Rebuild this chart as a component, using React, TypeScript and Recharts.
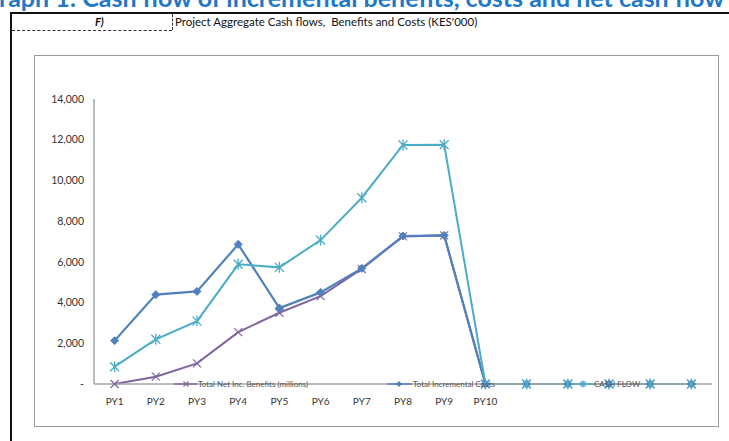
import { Line, LineChart, XAxis, YAxis } from 'recharts';

const PERIODS = ['PY1', 'PY2', 'PY3', 'PY4', 'PY5', 'PY6', 'PY7', 'PY8', 'PY9', 'PY10', 'PY11', 'PY12', 'PY13', 'PY14', 'PY15'];
const TICK_LABELS = ['PY1', 'PY2', 'PY3', 'PY4', 'PY5', 'PY6', 'PY7', 'PY8', 'PY9', 'PY10', '', '', '', '', ''];
const NET_BENEFITS = [0, 360, 1015, 2550, 3500, 4320, 5650, 7250, 7300, 0, 0, 0, 0, 0, 0];
const INCREMENTAL_COSTS = [2130, 4390, 4550, 6860, 3730, 4500, 5680, 7270, 7300, 0, 0, 0, 0, 0, 0];
const CASH_FLOW = [850, 2195, 3090, 5880, 5730, 7070, 9150, 11740, 11750, 0, 0, 0, 0, 0, 0];
const Y_TICKS = [0, 2000, 4000, 6000, 8000, 10000, 12000, 14000];

const PURPLE = '#8064A2';
const BLUE = '#4F81BD';
const TEAL = '#4BACC6';
const FONT = 'Lato, "Open Sans", sans-serif';

const data = PERIODS.map((p, i) => ({
  period: p,
  net: NET_BENEFITS[i],
  costs: INCREMENTAL_COSTS[i],
  cash: CASH_FLOW[i],
}));

function Diamond({ cx, cy, r = 4 }: { cx: number; cy: number; r?: number }) {
  return <path d={`M${cx},${cy - r}L${cx + r},${cy}L${cx},${cy + r}L${cx - r},${cy}Z`} fill={BLUE} stroke={BLUE} strokeWidth={1} />;
}

function Cross({ cx, cy, r = 4, color = PURPLE }: { cx: number; cy: number; r?: number; color?: string }) {
  return (
    <path d={`M${cx - r},${cy - r}L${cx + r},${cy + r}M${cx - r},${cy + r}L${cx + r},${cy - r}`} stroke={color} strokeWidth={1.2} fill="none" />
  );
}

function Star({ cx, cy, r = 4.5 }: { cx: number; cy: number; r?: number }) {
  return (
    <path
      d={`M${cx - r},${cy - r}L${cx + r},${cy + r}M${cx - r},${cy + r}L${cx + r},${cy - r}M${cx},${cy - r - 1}L${cx},${cy + r + 1}`}
      stroke={TEAL}
      strokeWidth={1.3}
      fill="none"
    />
  );
}

const fmt = (v: number) => (v === 0 ? '-' : v.toLocaleString('en-US'));

export default function App() {
  return (
    <div style={{ position: 'absolute', left: 0, top: 0, width: 729, height: 441, overflow: 'hidden', background: '#fff', fontFamily: FONT }}>
      {/* heading of the page above, only its lower edge shows */}
      <div
        style={{ position: 'absolute', left: -19, top: -15, whiteSpace: 'nowrap', fontSize: 25, lineHeight: '25px', fontWeight: 700, color: '#1F78C8' }}
      >
        Graph 1: Cash flow of incremental benefits, costs and net cash flow
      </div>
      {/* sheet borders */}
      <div style={{ position: 'absolute', left: 10, top: 12, width: 730, height: 440, borderTop: '2px solid #111', borderLeft: '2px solid #111' }} />
      <div style={{ position: 'absolute', left: 12, top: 30, width: 160, borderTop: '1px dashed #333' }} />
      <div style={{ position: 'absolute', left: 172, top: 14, height: 16, borderLeft: '1px dashed #333' }} />
      <div style={{ position: 'absolute', left: 95, top: 14, fontSize: 11, lineHeight: '15px', fontWeight: 700, fontStyle: 'italic', color: '#111' }}>F)</div>
      <div style={{ position: 'absolute', left: 175, top: 14, fontSize: 11.5, lineHeight: '15px', color: '#111', whiteSpace: 'nowrap' }}>
        Project Aggregate Cash flows,&nbsp; Benefits and Costs (KES'000)
      </div>

      {/* chart frame */}
      <div style={{ position: 'absolute', left: 34, top: 55, width: 685, height: 372, border: '1px solid #9a9a9a', boxSizing: 'border-box' }} />
      <div style={{ position: 'absolute', left: 34, top: 55 }}>
        <LineChart width={684} height={371} data={data} margin={{ top: 44, right: 6, left: 0, bottom: 12 }}>
          <XAxis
            dataKey="period"
            interval={0}
            height={30}
            padding={{ left: 20.6, right: 20.6 }}
            tickLine={false}
            tickSize={0}
            tickMargin={14}
            axisLine={{ stroke: '#a6a6a6', strokeWidth: 1.5 }}
            tickFormatter={(_v, i) => TICK_LABELS[i]}
            tick={{ fontSize: 10, fill: '#333', fontFamily: FONT }}
          />
          <YAxis
            width={60}
            domain={[0, 14000]}
            ticks={Y_TICKS}
            interval={0}
            tickLine={false}
            tickSize={0}
            tickMargin={10}
            axisLine={{ stroke: '#a6a6a6', strokeWidth: 1.5 }}
            tickFormatter={fmt}
            tick={{ fontSize: 10.5, fill: '#333', fontFamily: FONT }}
          />
          <Line
            dataKey="net"
            stroke={PURPLE}
            strokeWidth={2}
            isAnimationActive={false}
            dot={(p: any) => <Cross key={`n${p.index}`} cx={p.cx} cy={p.cy} />}
          />
          <Line
            dataKey="costs"
            stroke={BLUE}
            strokeWidth={2.2}
            isAnimationActive={false}
            dot={(p: any) => <Diamond key={`c${p.index}`} cx={p.cx} cy={p.cy} />}
          />
          <Line
            dataKey="cash"
            stroke={TEAL}
            strokeWidth={2}
            isAnimationActive={false}
            dot={(p: any) => <Star key={`f${p.index}`} cx={p.cx} cy={p.cy} />}
          />
        </LineChart>
      </div>

      {/* legend, laid over the axis as in the original */}
      <svg width={729} height={441} style={{ position: 'absolute', left: 0, top: 0, pointerEvents: 'none' }}>
        <g fontFamily={FONT} fontSize={8} fill="#555">
          <line x1={174} y1={384} x2={197} y2={384} stroke={PURPLE} strokeWidth={1.5} />
          <Cross cx={186} cy={384} r={2.5} />
          <text x={198} y={386.8}>Total Net Inc. Benefits (millions)</text>
          <line x1={387} y1={384} x2={412} y2={384} stroke={BLUE} strokeWidth={1.5} />
          <Diamond cx={399} cy={384} r={2.5} />
          <text x={413} y={386.8}>Total Incremental Costs</text>
          <line x1={572} y1={384} x2={593} y2={384} stroke={TEAL} strokeWidth={1.5} />
          <Star cx={583} cy={384} r={2.5} />
          <text x={594} y={386.8}>CASH FLOW</text>
        </g>
      </svg>
    </div>
  );
}
